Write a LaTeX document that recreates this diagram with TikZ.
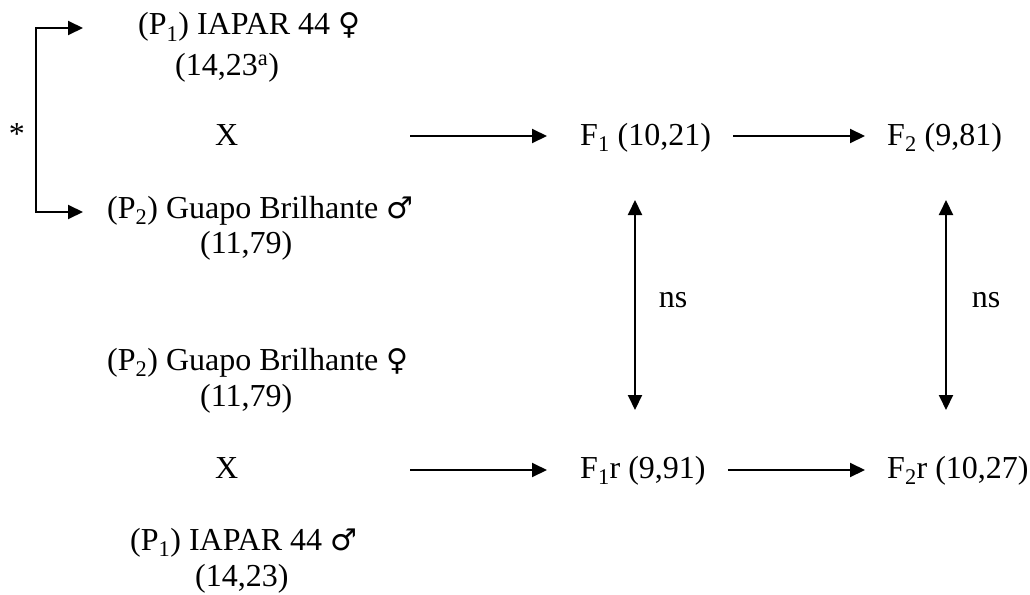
\documentclass[tikz,border=0pt]{standalone}
\usepackage{fontspec}
\setmainfont{Liberation Serif}
\newfontfamily\symfont{DejaVu Sans}
\usetikzlibrary{arrows.meta}
\tikzset{
  lbl/.style={inner sep=0pt, anchor=base west, font=\fontsize{32}{38}\selectfont},
  lblc/.style={lbl, anchor=center},
  arr/.style={line width=2pt, -{Triangle[length=15pt,width=14pt]}},
  darr/.style={line width=2pt, {Triangle[length=15pt,width=14pt]}-{Triangle[length=15pt,width=14pt]}},
}
\newcommand{\fem}{{\symfont\fontsize{30}{34}\selectfont ♀}}
\newcommand{\mal}{{\symfont\fontsize{30}{34}\selectfont ♂}}
\begin{document}
\begin{tikzpicture}[x=1pt,y=-1pt]
\useasboundingbox (0,0) rectangle (1030,594);
% top cross
\node[lbl] (p1a) at (138,35) {(P\textsubscript{1}) IAPAR 44 \fem};
\node[lbl] (p1av) at (175,75) {(14,23\textsuperscript{a})};
\node[lbl] (xa) at (215,145) {X};
\node[lbl] (p2a) at (107,218) {(P\textsubscript{2}) Guapo Brilhante \mal};
\node[lbl] (p2av) at (200,253) {(11,79)};
% bottom cross
\node[lbl] (p2b) at (107,370) {(P\textsubscript{2}) Guapo Brilhante \fem};
\node[lbl] (p2bv) at (200,406) {(11,79)};
\node[lbl] (xb) at (215,478) {X};
\node[lbl] (p1b) at (130,550) {(P\textsubscript{1}) IAPAR 44 \mal};
\node[lbl] (p1bv) at (195,586) {(14,23)};
% F nodes
\node[lbl] (f1) at (580,145) {F\textsubscript{1} (10,21)};
\node[lbl] (f2) at (887,145) {F\textsubscript{2} (9,81)};
\node[lbl] (f1r) at (580,478) {F\textsubscript{1}r (9,91)};
\node[lbl] (f2r) at (887,478) {F\textsubscript{2}r (10,27)};
% star
\node[lblc] (star) at (17,134) {*};
% ns labels
\node[lblc] (ns1) at (673,300) {ns};
\node[lblc] (ns2) at (986,300) {ns};
% bracket
\coordinate (bt) at (83,28);
\coordinate (bb) at (83,212);
\coordinate (ct) at (36,28);
\coordinate (cb) at (36,212);
\draw[darr] (bt) -- (ct) -- (cb) -- (bb);
% horizontal arrows
\coordinate (s1) at (410,136);
\coordinate (s2) at (410,470);
\draw[arr, shorten >=33pt] (s1) -- (s1 -| f1.west);
\draw[arr, shorten <=22pt, shorten >=22pt] (s1 -| f1.east) -- (s1 -| f2.west);
\draw[arr, shorten >=33pt] (s2) -- (s2 -| f1r.west);
\draw[arr, shorten <=22pt, shorten >=22pt] (s2 -| f1r.east) -- (s2 -| f2r.west);
% vertical arrows
\coordinate (v1x) at (635,0);
\coordinate (v2x) at (946,0);
\coordinate (vt) at (0,200);
\coordinate (vb) at (0,410);
\draw[darr] (v1x |- vt) -- (v1x |- vb);
\draw[darr] (v2x |- vt) -- (v2x |- vb);
\end{tikzpicture}
\end{document}
